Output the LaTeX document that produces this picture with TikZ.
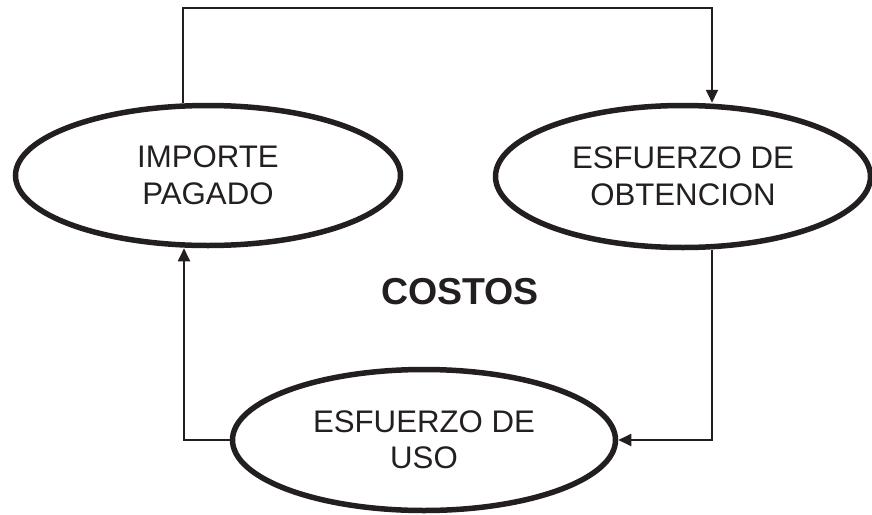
\documentclass[tikz,border=0pt]{standalone}
\usepackage{fontspec}
\setmainfont{Liberation Sans}
\usetikzlibrary{shapes.geometric,arrows.meta}
\definecolor{ink}{HTML}{231F20}
\begin{document}
\begin{tikzpicture}[x=1pt,y=-1pt,
  oval/.style={ellipse,draw=ink,line width=5.5pt,inner sep=0pt,align=center,
    text=ink,font=\fontsize{31.2}{36.5}\selectfont},
  conn/.style={draw=ink,line width=1.8pt},
  arr/.style={conn,-{Triangle[length=13pt,width=12pt]}},
]
\useasboundingbox (0,0) rectangle (872,514);
\node[oval,minimum width=385pt,minimum height=140pt] (imp) at (208,175.5) {IMPORTE\\PAGADO};
\node[oval,minimum width=375pt,minimum height=142pt] (obt) at (683,176.5) {ESFUERZO DE\\OBTENCION};
\node[oval,minimum width=383pt,minimum height=141pt] (uso) at (424,440) {ESFUERZO DE\\USO};
\node[text=ink,font=\bfseries\fontsize{37.5}{44}\selectfont] (costos) at (460,292) {COSTOS};
\coordinate (tl) at (183,8);
\coordinate (tr) at (712,8);
\coordinate (br) at (712,440);
\coordinate (bl) at (184,440);
\draw[arr] (imp.north -| tl) -- (tl) -- (tr) -- (obt.north -| tr);
\draw[arr] (obt.south -| br) -- (br) -- (uso.east);
\draw[arr] (uso.west) -- (bl) -- (imp.south -| bl);
\end{tikzpicture}
\end{document}
